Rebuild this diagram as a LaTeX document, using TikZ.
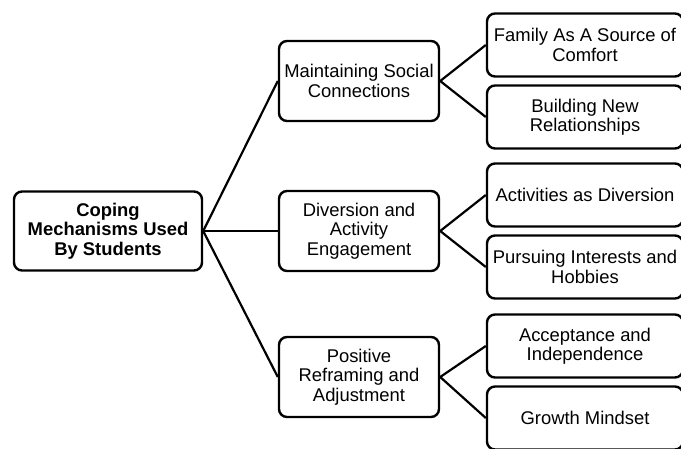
\documentclass[tikz,border=0pt]{standalone}
\usepackage{fontspec}
\setmainfont{Liberation Sans}

\begin{document}
\begin{tikzpicture}[x=1pt, y=1pt, grow'=right, parent anchor=east, child anchor=west,
    every node/.style={draw, line width=2.4pt, rounded corners=8pt, align=center, font=\fontsize{18.4}{19.5}\selectfont},
    edge from parent/.style={draw, line width=2.2pt},
    level 1/.style={level distance=251pt, sibling distance=146pt, nodes={minimum width=160pt, minimum height=80pt}},
    level 2/.style={level distance=226pt, sibling distance=72pt, nodes={minimum width=196pt, minimum height=63pt}}]
    \clip (0,0) rectangle (681,-448);
    \node (root) at (108,-231) [minimum width=188pt, minimum height=79pt, font=\fontsize{18.4}{19.5}\selectfont\bfseries] {Coping\\Mechanisms Used\\By Students}
        child[yshift=4pt] {node (social) {Maintaining Social\\Connections}
            child {node (family) {Family As A Source of\\Comfort}}
            child {node (newrel) {Building New\\Relationships}}
        }
        child {node (diversion) {Diversion and\\Activity\\Engagement}
            child {node (activities) {Activities as Diversion}}
            child {node (hobbies) {Pursuing Interests and\\Hobbies}}
        }
        child {node (reframing) {Positive\\Reframing and\\Adjustment}
            child[yshift=-5pt] {node (acceptance) {Acceptance and\\Independence}}
            child[yshift=-5pt] {node (growth) {Growth Mindset}}
        };
\end{tikzpicture}
\end{document}
